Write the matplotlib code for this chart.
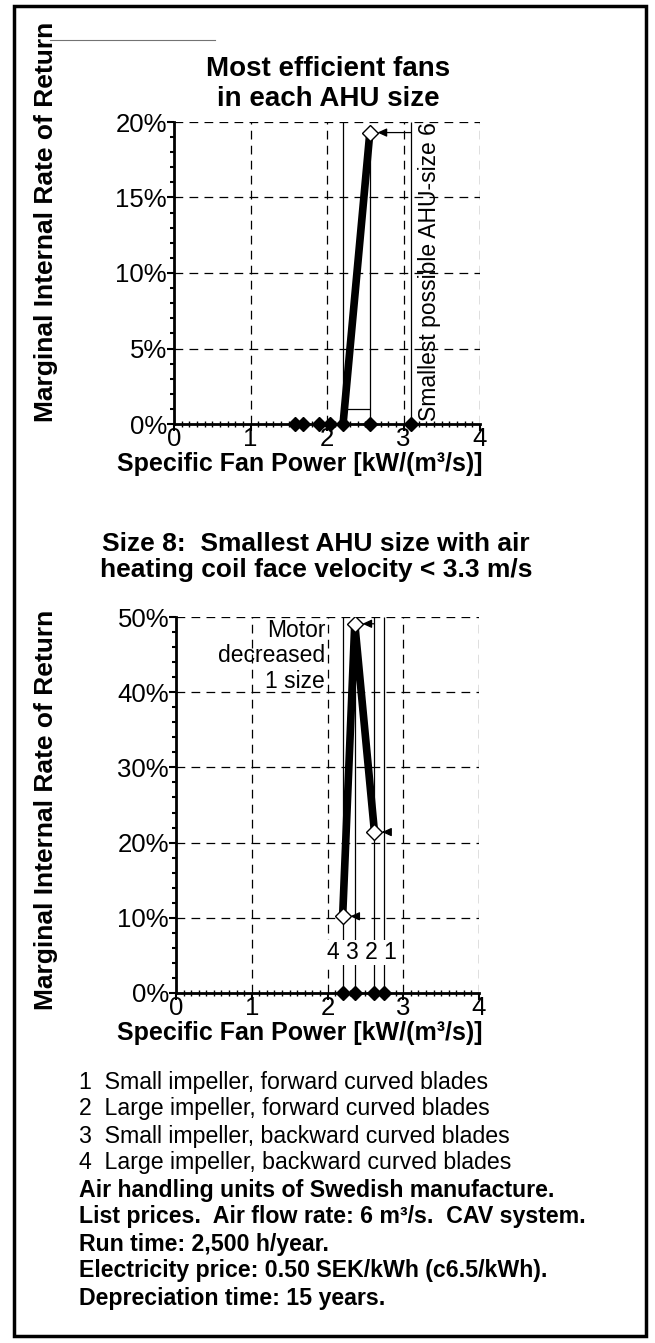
import matplotlib.pyplot as plt
from matplotlib.patches import Rectangle
from matplotlib.lines import Line2D
from matplotlib.ticker import MultipleLocator, FuncFormatter

plt.rcParams['font.family'] = ['Liberation Sans', 'DejaVu Sans']

# --- top chart: most efficient fans in each AHU size ---
top_fan_x = [1.58, 1.69, 1.90, 2.04, 2.21, 2.56, 3.10]   # SFP of fans (on x-axis)
top_line_x = [2.21, 2.56]
top_line_y = [0.0, 19.3]
top_step_y = 1.0          # small horizontal connector
top_limit_x = 3.10        # smallest possible AHU size 6

# --- bottom chart: size 8 ---
fan_types = ['1', '2', '3', '4']
fan_x = [2.75, 2.62, 2.36, 2.20]          # SFP per fan type
fan_irr = [0.0, 21.4, 49.1, 10.2]         # marginal IRR (%) per fan type
path_types = [3, 2, 1]                     # indexes: 4 -> 3 -> 2

legend_lines = ['1  Small impeller, forward curved blades',
                '2  Large impeller, forward curved blades',
                '3  Small impeller, backward curved blades',
                '4  Large impeller, backward curved blades']
notes = ['Air handling units of Swedish manufacture.',
         'List prices.  Air flow rate: 6 m\u00b3/s.  CAV system.',
         'Run time: 2,500 h/year.',
         'Electricity price: 0.50 SEK/kWh (c6.5/kWh).',
         'Depreciation time: 15 years.']

W, H = 655, 1343
fig = plt.figure(figsize=(W / 100, H / 100), dpi=100)


def px(x, y):
    return x / W, 1 - y / H


def style_axes(ax, ymax, ymajor, yminor):
    ax.set_xlim(0, 4)
    ax.set_ylim(0, ymax)
    for s in ['top', 'right']:
        ax.spines[s].set_visible(False)
    for s in ['left', 'bottom']:
        ax.spines[s].set_linewidth(2.0)
    ax.xaxis.set_major_locator(MultipleLocator(1))
    ax.xaxis.set_minor_locator(MultipleLocator(0.1))
    ax.yaxis.set_major_locator(MultipleLocator(ymajor))
    ax.yaxis.set_minor_locator(MultipleLocator(yminor))
    ax.yaxis.set_major_formatter(FuncFormatter(lambda v, p: '%d%%' % round(v)))
    ax.tick_params(axis='both', which='major', direction='out', length=5, width=1.5,
                   labelsize=18.5, pad=0)
    ax.tick_params(axis='x', which='major', pad=-2.5)
    ax.tick_params(axis='x', which='minor', direction='inout', length=4, width=1)
    ax.tick_params(axis='y', which='minor', direction='out', length=3, width=1.5)
    ax.grid(True, which='major', color='black', linestyle=(0, (7, 5)), linewidth=0.9)
    ax.set_axisbelow(True)
    ax.set_facecolor('none')
    ax.set_xlabel('Specific Fan Power [kW/(m\u00b3/s)]', fontsize=18, fontweight='bold')
    ax.set_ylabel('Marginal Internal Rate of Return', fontsize=19, fontweight='bold',
                  va='center')


def place_labels(ax, x0, x1, y0, y1, xlab_top, ylab_mid):
    # label positions given in figure pixels
    ax.xaxis.set_label_coords((300 - x0) / (x1 - x0), -(xlab_top - y0) / (y0 - y1))
    ax.yaxis.set_label_coords(-(x0 - 46) / (x1 - x0), (y0 - ylab_mid) / (y0 - y1))


def arrow(ax, x_from, x_to, y):
    ax.annotate('', xy=(x_to, y), xytext=(x_from, y),
                arrowprops=dict(arrowstyle='-|>,head_length=0.55,head_width=0.25',
                                color='black', lw=0.9, shrinkA=0, shrinkB=5.5))


# top chart
ax1 = fig.add_axes([174 / W, 1 - 424 / H, 306 / W, 302 / H])
style_axes(ax1, 20, 5, 1)
place_labels(ax1, 174, 480, 424, 122, 452, 222)
ax1.vlines([top_line_x[0], top_limit_x], 0, 20, color='black', lw=0.9)
ax1.vlines(top_line_x[1], 0, top_line_y[1], color='black', lw=0.9)
ax1.hlines(top_step_y, top_line_x[0], top_line_x[1], color='black', lw=0.9)
ax1.plot(top_line_x, top_line_y, color='black', lw=5.5, solid_capstyle='butt')
arrow(ax1, top_limit_x, top_line_x[1], top_line_y[1])
ax1.plot(top_line_x[1], top_line_y[1], marker='D', ms=8, mfc='white', mec='black', mew=1)
ax1.plot(top_fan_x, [0] * len(top_fan_x), 'D', color='black', ms=7, clip_on=False, zorder=5)
ax1.text(top_limit_x + 0.09, 10.1, 'Smallest possible AHU-size 6', rotation=90,
         fontsize=16.5, ha='left', va='center')
fig.text(*px(328, 84), 'Most efficient fans\nin each AHU size', ha='center', va='center',
         fontsize=20, fontweight='bold', linespacing=1.2)

# bottom chart
ax2 = fig.add_axes([176 / W, 1 - 993 / H, 303 / W, 376 / H])
style_axes(ax2, 50, 10, 2)
place_labels(ax2, 176, 479, 993, 617, 1021, 810)
ax2.vlines([fan_x[0], fan_x[1], fan_x[3]], 0, 50, color='black', lw=0.9)
ax2.vlines(fan_x[2], 0, fan_irr[2], color='black', lw=0.9)
ax2.plot([fan_x[i] for i in path_types], [fan_irr[i] for i in path_types],
         color='black', lw=5.5, solid_joinstyle='miter')
arrow(ax2, fan_x[1], fan_x[2], fan_irr[2])
arrow(ax2, fan_x[0], fan_x[1], fan_irr[1])
arrow(ax2, fan_x[2], fan_x[3], fan_irr[3])
ax2.plot([fan_x[i] for i in path_types], [fan_irr[i] for i in path_types], 'D', ms=8,
         mfc='white', mec='black', mew=1, zorder=6)
ax2.plot(fan_x, [0] * len(fan_x), 'D', color='black', ms=7, clip_on=False, zorder=5)
ax2.text(2.46, 5.4, ' '.join(reversed(fan_types)), fontsize=16.5, ha='center', va='center',
         bbox=dict(facecolor='white', edgecolor='none', pad=1))
ax2.text(1.97, 49.8, 'Motor\ndecreased\n1 size', fontsize=16.5, ha='right', va='top',
         linespacing=1.15)
fig.text(*px(316, 557), 'Size 8:  Smallest AHU size with air\nheating coil face velocity < 3.3 m/s',
         ha='center', va='center', fontsize=19, fontweight='bold', linespacing=1.15)

# footnotes
y = 1082
for line in legend_lines:
    fig.text(*px(79, y), line, fontsize=16.7, va='center', ha='left')
    y += 27
for line in notes:
    fig.text(*px(79, y), line, fontsize=16.7, va='center', ha='left', fontweight='bold')
    y += 27

# frame and faint scan line at the top
fig.patches.append(Rectangle(px(14, 1336), 632 / W, 1330 / H, transform=fig.transFigure,
                             fill=False, edgecolor='black', linewidth=2.5))
fig.lines.append(Line2D([50 / W, 215 / W], [1 - 40 / H] * 2, transform=fig.transFigure,
                        color='0.45', lw=0.8))

fig.savefig('out.png', dpi=100)
